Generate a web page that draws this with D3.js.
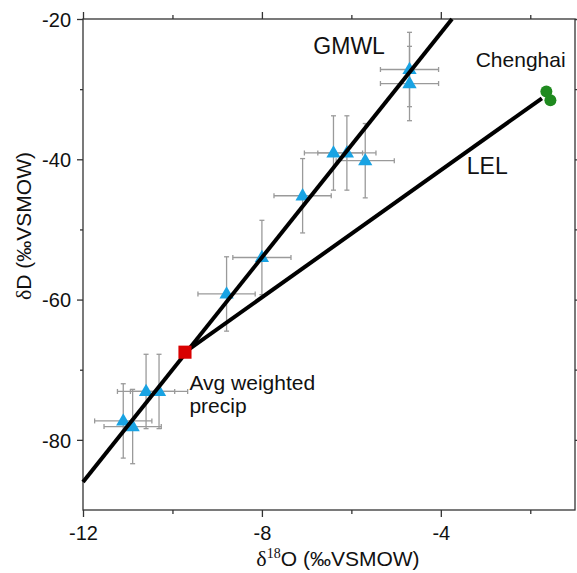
<!DOCTYPE html>
<html>
<head>
<meta charset="utf-8">
<script src="https://cdn.jsdelivr.net/npm/d3@7"></script>
<style>
  body { margin: 0; background: #fff; }
  svg text { font-family: "Liberation Sans", Arial, sans-serif; fill: #111; }
</style>
</head>
<body>
<div id="chart"></div>
<script>
// tick values
var xTickVals = [-12, -10, -8, -6, -4, -2];
var xTickLabels = [-12, -8, -4];
var yTickVals = [-80, -70, -60, -50, -40, -30, -20];
var yTickLabels = [-80, -60, -40, -20];

// sampled waters (triangles) with error bars
var sampleD18O = [-11.10, -10.89, -10.59, -10.30, -8.79, -8.00, -7.09, -6.40, -6.10, -5.69, -4.70, -4.70];
var sampleDD   = [-77.3, -78.1, -73.1, -73.1, -59.2, -54.0, -45.2, -39.1, -39.1, -40.2, -27.2, -29.2];
var sampleErrX = [0.64, 0.64, 0.64, 0.64, 0.64, 0.65, 0.64, 0.65, 0.65, 0.65, 0.65, 0.65];
var sampleErrY = [5.3, 5.3, 5.3, 5.3, 5.3, 5.3, 5.3, 5.3, 5.3, 5.3, 5.3, 5.3];

// average weighted precipitation (red square)
var precipD18O = [-9.72];
var precipDD   = [-67.5];

// Chenghai lake (green dots)
var chenghaiD18O = [-1.64, -1.55];
var chenghaiDD   = [-30.35, -31.6];

// lines
var gmwlD18O = [-12, -3.75];
var gmwlDD   = [-86, -20];
var lelD18O  = [-9.72, -1.74];
var lelDD    = [-67.5, -31.3];

var margin = { top: 19, right: 2, bottom: 63, left: 83 },
  width = 577 - margin.left - margin.right,
  height = 573 - margin.top - margin.bottom;

var x = d3.scaleLinear().domain([-12, -1]).range([0, width]);
var y = d3.scaleLinear().domain([-90, -20]).range([height, 0]);

var svg = d3.select("#chart").append("svg")
  .attr("width", 577)
  .attr("height", 573)
  .append("g")
  .attr("transform", "translate(" + margin.left + "," + margin.top + ")");

var axisColor = "#333";

function styleAxis(g, labels, major, minor, horizontal) {
  g.select(".domain").remove();
  g.selectAll(".tick line")
    .attr("stroke", axisColor)
    .attr("stroke-width", 1.3)
    .each(function (d) {
      var len = labels.indexOf(d) >= 0 ? major : minor;
      var sel = d3.select(this);
      if (horizontal) sel.attr("y2", sel.attr("y2") < 0 ? -len : len);
      else sel.attr("x2", sel.attr("x2") < 0 ? -len : len);
    });
  g.selectAll(".tick text").attr("font-size", 20).attr("fill", "#111")
    .attr("font-family", "Liberation Sans, Arial, sans-serif");
}

var fmtX = function (d) { return xTickLabels.indexOf(d) >= 0 ? String(d) : ""; };
var fmtY = function (d) { return yTickLabels.indexOf(d) >= 0 ? String(d) : ""; };

svg.append("g")
  .attr("transform", "translate(0," + height + ")")
  .call(d3.axisBottom(x).tickValues(xTickVals).tickSize(6).tickPadding(10).tickFormat(fmtX))
  .call(function (g) { styleAxis(g, xTickLabels, 7, 4, true); });

svg.append("g")
  .call(d3.axisTop(x).tickValues(xTickVals).tickSize(6).tickFormat(""))
  .call(function (g) { styleAxis(g, xTickLabels, 7, 4, true); });

svg.append("g")
  .call(d3.axisLeft(y).tickValues(yTickVals).tickSize(6).tickPadding(6).tickFormat(fmtY))
  .call(function (g) { styleAxis(g, yTickLabels, 6, 3, false); })
  .selectAll(".tick text").attr("dy", "0.36em");

svg.append("g")
  .attr("transform", "translate(" + width + ",0)")
  .call(d3.axisRight(y).tickValues(yTickVals).tickSize(4).tickFormat(""))
  .call(function (g) { styleAxis(g, yTickLabels, 4, 3, false); });

// frame
svg.append("rect")
  .attr("x", 0).attr("y", 0)
  .attr("width", width).attr("height", height)
  .attr("fill", "none")
  .attr("stroke", axisColor)
  .attr("stroke-width", 1.3);

// error bars
var samples = sampleD18O.map(function (v, i) {
  return { x: v, y: sampleDD[i], ex: sampleErrX[i], ey: sampleErrY[i] };
});

var errG = svg.append("g").attr("stroke", "#9a9a9a").attr("stroke-width", 1.3).attr("fill", "none");
var cap = 2.5;
samples.forEach(function (d) {
  var g = errG.append("g");
  g.append("line").attr("x1", x(d.x - d.ex)).attr("x2", x(d.x + d.ex)).attr("y1", y(d.y)).attr("y2", y(d.y));
  g.append("line").attr("x1", x(d.x)).attr("x2", x(d.x)).attr("y1", y(d.y - d.ey)).attr("y2", y(d.y + d.ey));
  g.append("line").attr("x1", x(d.x - d.ex)).attr("x2", x(d.x - d.ex)).attr("y1", y(d.y) - cap).attr("y2", y(d.y) + cap);
  g.append("line").attr("x1", x(d.x + d.ex)).attr("x2", x(d.x + d.ex)).attr("y1", y(d.y) - cap).attr("y2", y(d.y) + cap);
  g.append("line").attr("x1", x(d.x) - cap).attr("x2", x(d.x) + cap).attr("y1", y(d.y - d.ey)).attr("y2", y(d.y - d.ey));
  g.append("line").attr("x1", x(d.x) - cap).attr("x2", x(d.x) + cap).attr("y1", y(d.y + d.ey)).attr("y2", y(d.y + d.ey));
});

// triangles
svg.append("g").selectAll("path")
  .data(samples)
  .enter()
  .append("path")
  .attr("d", d3.symbol().type(d3.symbolTriangle).size(88))
  .attr("transform", function (d) { return "translate(" + x(d.x) + "," + (y(d.y) + 0.5) + ")"; })
  .attr("fill", "#19a3e3");

// GMWL and LEL
var line = d3.line().x(function (d) { return x(d[0]); }).y(function (d) { return y(d[1]); });
svg.append("path")
  .datum(gmwlD18O.map(function (v, i) { return [v, gmwlDD[i]]; }))
  .attr("d", line).attr("fill", "none").attr("stroke", "#000").attr("stroke-width", 4);
svg.append("path")
  .datum(lelD18O.map(function (v, i) { return [v, lelDD[i]]; }))
  .attr("d", line).attr("fill", "none").attr("stroke", "#000").attr("stroke-width", 4);

// avg weighted precip
svg.append("g").selectAll("path")
  .data(precipD18O)
  .enter()
  .append("path")
  .attr("d", d3.symbol().type(d3.symbolSquare).size(172))
  .attr("transform", function (d, i) { return "translate(" + x(d) + "," + y(precipDD[i]) + ")"; })
  .attr("fill", "#d90000");

// Chenghai
svg.append("g").selectAll("circle")
  .data(chenghaiD18O)
  .enter()
  .append("circle")
  .attr("cx", function (d) { return x(d); })
  .attr("cy", function (d, i) { return y(chenghaiDD[i]); })
  .attr("r", 6)
  .attr("fill", "#1f8a1f");

// labels
var labels = svg.append("g");
labels.append("text").attr("x", x(-6.85)).attr("y", y(-25.0)).attr("font-size", 23).text("GMWL");
labels.append("text").attr("x", x(-3.22)).attr("y", y(-26.8)).attr("font-size", 21).text("Chenghai");
labels.append("text").attr("x", x(-3.42)).attr("y", y(-42.1)).attr("font-size", 23).text("LEL");
labels.append("text").attr("x", x(-9.62)).attr("y", y(-72.85)).attr("font-size", 21).text("Avg weighted");
labels.append("text").attr("x", x(-9.62)).attr("y", y(-76.2)).attr("font-size", 21).text("precip");

// axis titles
var xt = svg.append("text")
  .attr("x", x(-6.3)).attr("y", height + 56)
  .attr("text-anchor", "middle")
  .attr("font-size", 21);
xt.append("tspan").attr("font-family", "Liberation Serif, serif").attr("font-size", 22).text("δ");
xt.append("tspan").attr("font-family", "Liberation Serif, serif").attr("font-size", 14).attr("dy", -8).text("18");
xt.append("tspan").attr("dy", 8).text("O (‰VSMOW)");

var yt = svg.append("text")
  .attr("transform", "translate(" + (31 - margin.left) + "," + (226 - margin.top) + ") rotate(-90)")
  .attr("text-anchor", "middle")
  .attr("font-size", 21);
yt.append("tspan").attr("font-family", "Liberation Serif, serif").attr("font-size", 22).text("δ");
yt.append("tspan").text("D (‰VSMOW)");
</script>
</body>
</html>
